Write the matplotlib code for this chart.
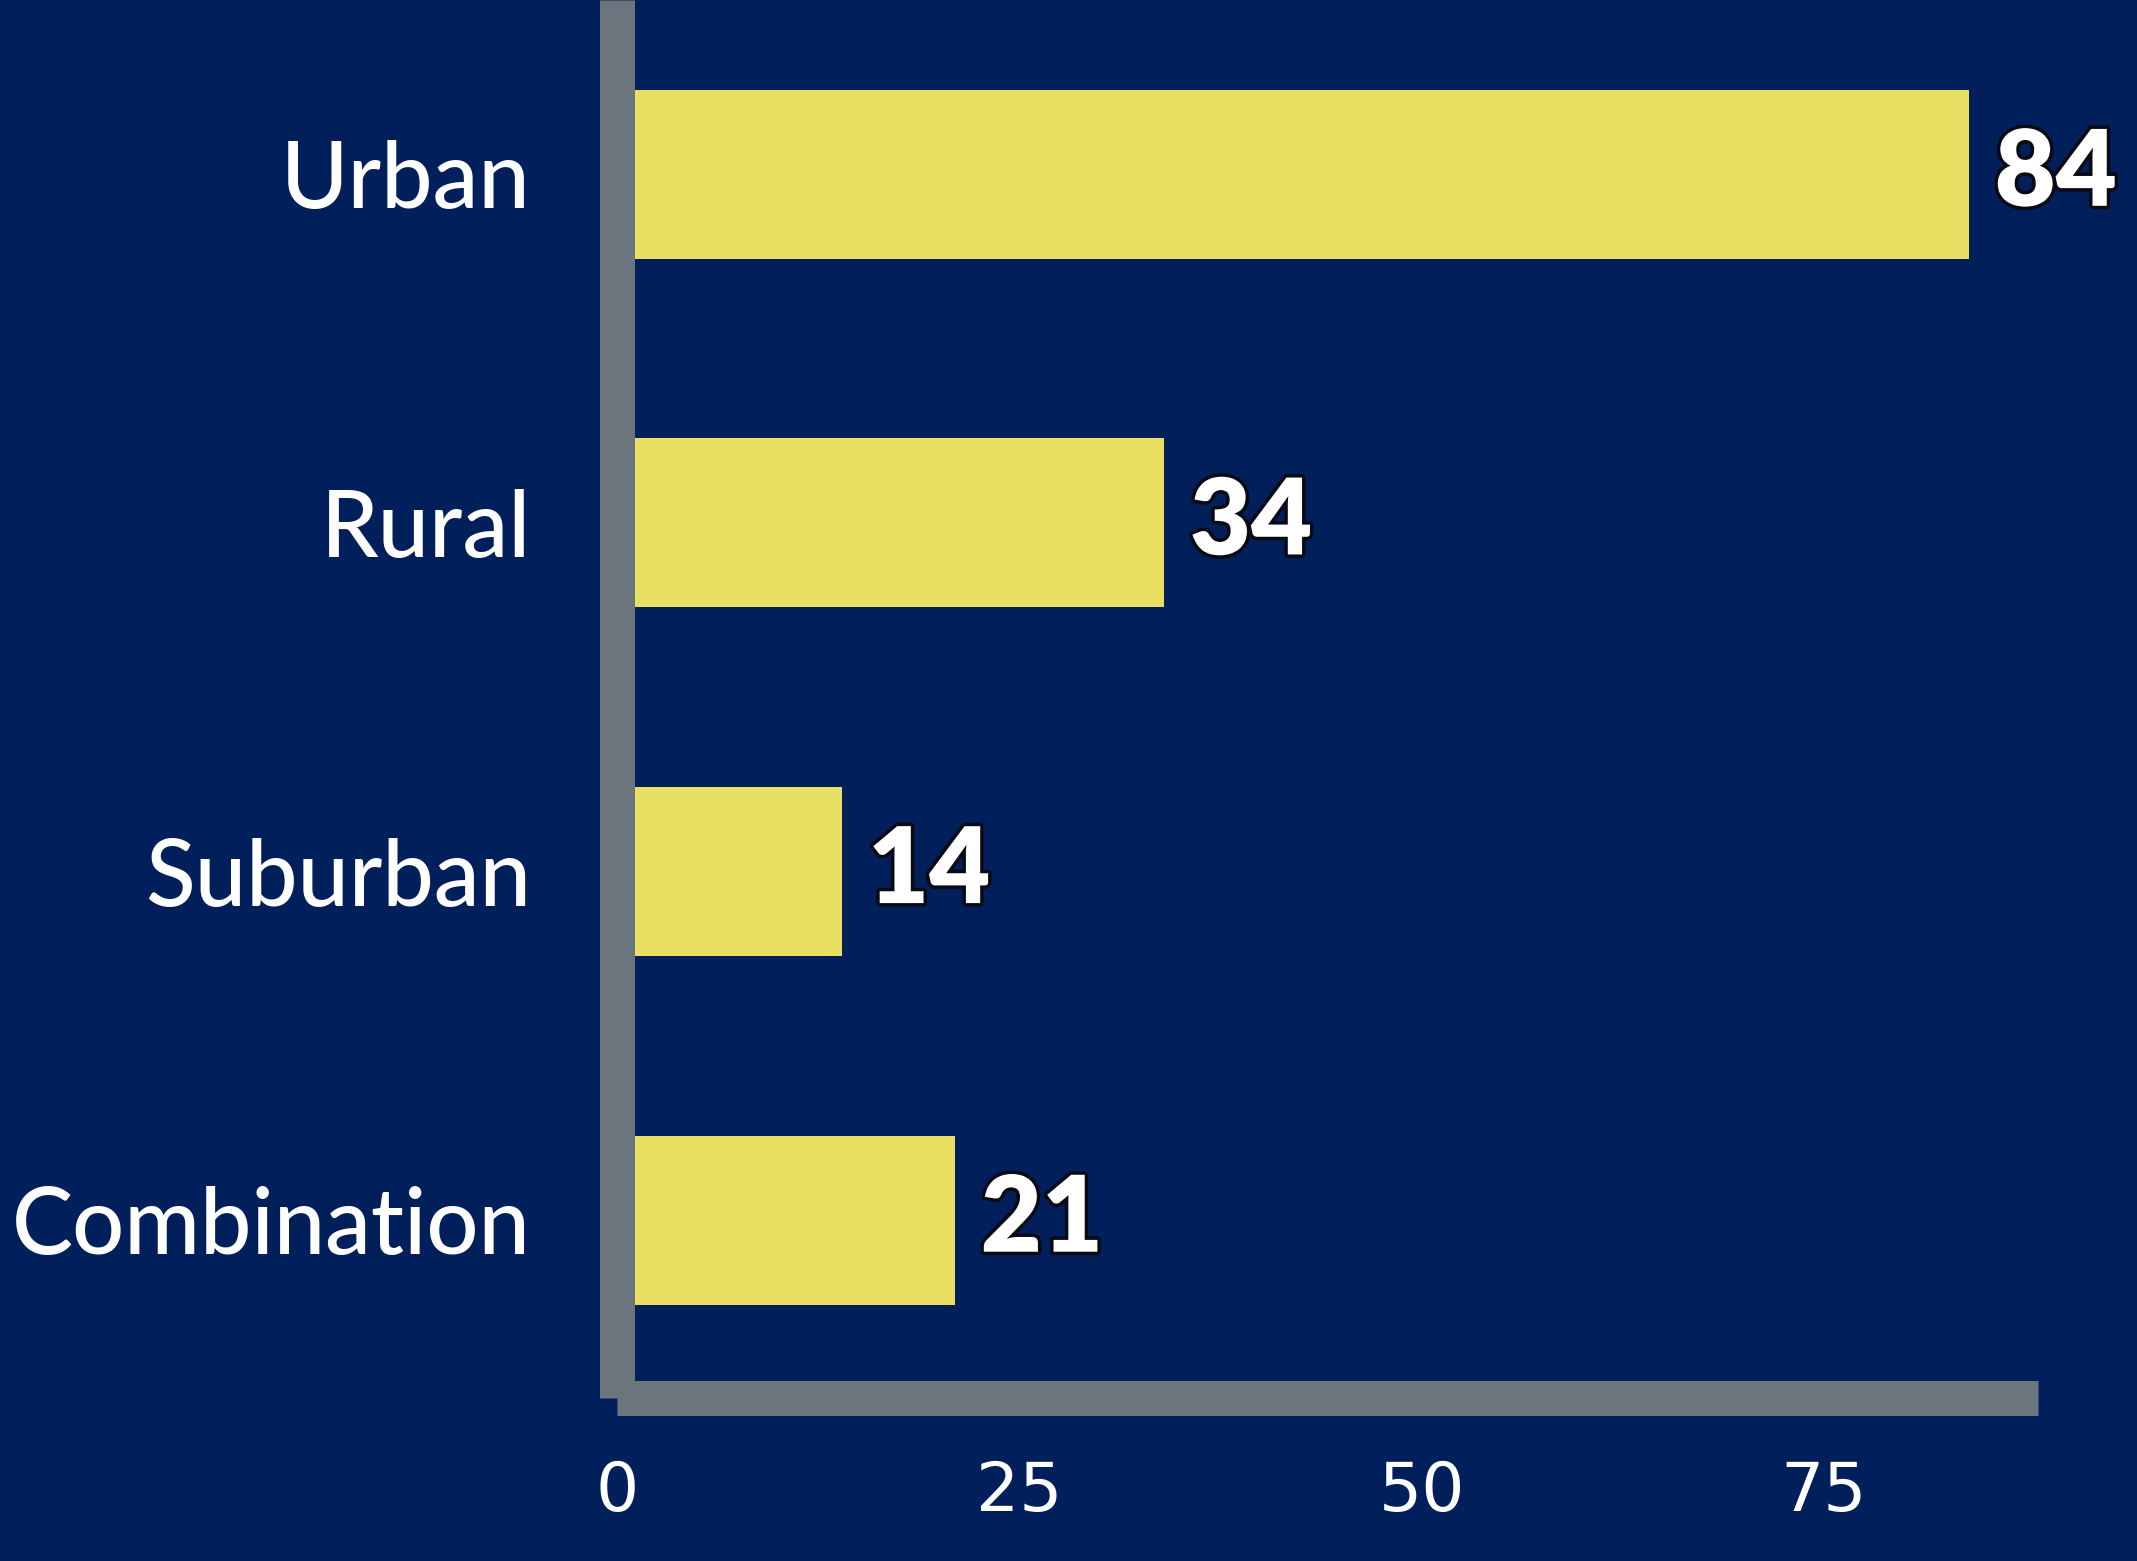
import matplotlib.pyplot as plt
import matplotlib.patheffects as pe

categories = ['Combination', 'Suburban', 'Rural', 'Urban']
values = [21, 14, 34, 84]
xticks = [0, 25, 50, 75]

bg = '#011f5b'
bar_color = '#e9df62'
spine_color = '#6c757d'

fig = plt.figure(figsize=(21.37, 15.61), dpi=100)
fig.patch.set_facecolor(bg)
ax = fig.add_axes([0.2887, 0.1044, 0.665, 0.8956])
ax.set_facecolor(bg)

pos = list(range(len(categories)))
ax.barh(pos, values, height=0.485, color=bar_color)

for p, v in zip(pos, values):
    ax.text(v + 1.6, p, str(v), va='center', ha='left', color='white',
            fontsize=76, fontweight='heavy', family='Lato',
            path_effects=[pe.withStroke(linewidth=5, foreground='#0a0a14')])

ax.set_xlim(0, 88.3)
ax.set_ylim(-0.51, 3.5)
ax.set_yticks(pos)
ax.set_yticklabels(categories, family='Lato', fontsize=66, fontweight='medium',
                   color='white')
ax.set_xticks(xticks)
ax.set_xticklabels([str(t) for t in xticks], family='DejaVu Sans',
                   fontsize=49, color='white')
ax.tick_params(axis='y', length=0, pad=62)
ax.tick_params(axis='x', length=0, pad=44)

for s in ['top', 'right']:
    ax.spines[s].set_visible(False)
for s in ['left', 'bottom']:
    ax.spines[s].set_color(spine_color)
    ax.spines[s].set_linewidth(25.2)
    ax.spines[s].set_capstyle('butt')

fig.savefig('out.png', dpi=100, facecolor=bg)
